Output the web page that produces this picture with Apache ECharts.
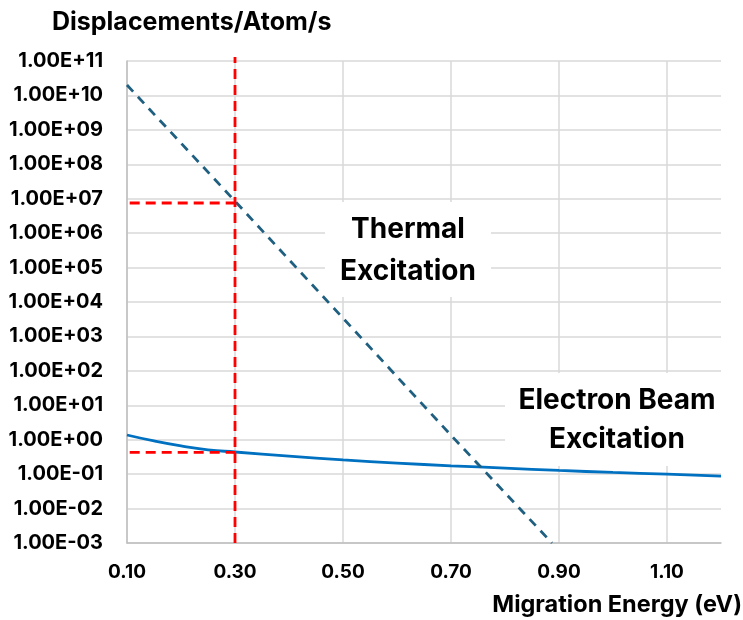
<!DOCTYPE html>
<html>
<head>
<meta charset="utf-8">
<title>Displacements per atom per second vs migration energy</title>
<script src="https://cdn.jsdelivr.net/npm/echarts@6/dist/echarts.min.js"></script>
<style>
  html, body { margin: 0; padding: 0; background: #ffffff; }
  #chart { width: 743px; height: 620px; }
</style>
</head>
<body>
<div id="chart"></div>
<script>
// Migration energy (eV) sample points and displacement rates (displacements/atom/s)
const thermalEnergy = [0.10, 0.30, 0.50, 0.70, 0.887];
const thermalRate   = [2.0e10, 8.5e6, 3.4e3, 1.35, 1.0e-3];

const beamEnergy = [0.10, 0.15, 0.20, 0.25, 0.30, 0.40, 0.50, 0.60, 0.70, 0.80, 0.90, 1.00, 1.10, 1.20];
const beamRate   = [1.37, 0.92, 0.66, 0.51, 0.44, 0.335, 0.26, 0.21, 0.175, 0.15, 0.128, 0.112, 0.10, 0.088];

// Red guide lines marking the 0.30 eV reading
const guideEnergy = 0.30;
const guideThermalRate = 7.5e6;
const guideBeamRate = 0.43;
const guideStartEnergy = 0.105;
const guideBottom = 1e-3;
const guideTop = 1.3e11;

// Axis tick labels
const xTickLabels = ['0.10', '0.30', '0.50', '0.70', '0.90', '1.10'];
const yTickLabels = ['1.00E-03', '1.00E-02', '1.00E-01', '1.00E+00', '1.00E+01', '1.00E+02',
  '1.00E+03', '1.00E+04', '1.00E+05', '1.00E+06', '1.00E+07', '1.00E+08', '1.00E+09',
  '1.00E+10', '1.00E+11'];

const FONT = 'Inter, "Open Sans", "Liberation Sans", sans-serif';
const pair = (xs, ys) => xs.map((x, i) => [x, ys[i]]);

const chart = echarts.init(document.getElementById('chart'), null, { renderer: 'canvas' });

const boxText = (text, x, y) => ({
  type: 'text', z: 5, x: x, y: y,
  style: { text: text, fontFamily: FONT, fontWeight: 'bold', fontSize: 28, fill: '#000000',
           align: 'center', verticalAlign: 'middle' }
});

chart.setOption({
  animation: false,
  backgroundColor: '#ffffff',
  grid: { left: 127, right: 22, top: 61, bottom: 77 },
  xAxis: {
    type: 'value',
    min: 0.1,
    max: 1.2,
    interval: 0.2,
    axisLine: { show: true, lineStyle: { color: '#bfbfbf', width: 1.5 } },
    axisTick: { show: false },
    splitLine: { show: true, showMaxLine: false, lineStyle: { color: '#d9d9d9', width: 1.5 } },
    axisLabel: {
      margin: 20,
      showMaxLabel: false,
      color: '#000000',
      fontFamily: FONT,
      fontWeight: 'bold',
      fontSize: 19,
      formatter: v => xTickLabels[Math.round((v - 0.1) / 0.2)] || ''
    }
  },
  yAxis: {
    type: 'log',
    logBase: 10,
    min: 1e-3,
    max: 1e11,
    interval: 1,
    axisLine: { show: true, lineStyle: { color: '#bfbfbf', width: 1.5 } },
    axisTick: { show: false },
    splitLine: { show: true, lineStyle: { color: '#d9d9d9', width: 1.5 } },
    axisLabel: {
      margin: 24,
      color: '#000000',
      fontFamily: FONT,
      fontWeight: 'bold',
      fontSize: 20,
      formatter: v => yTickLabels[Math.round(Math.log10(v)) + 3] || ''
    }
  },
  graphic: [
    { type: 'text', left: 52, top: 10, z: 5,
      style: { text: 'Displacements/Atom/s', fontFamily: FONT, fontWeight: 'bold', fontSize: 25, fill: '#000000' } },
    { type: 'text', right: 1, top: 593, z: 5,
      style: { text: 'Migration Energy (eV)', fontFamily: FONT, fontWeight: 'bold', fontSize: 23.5, fill: '#000000' } },
    // White label boxes over the grid
    { type: 'rect', z: 1, shape: { x: 325, y: 202, width: 166, height: 95 }, style: { fill: '#ffffff' } },
    boxText('Thermal', 408, 230),
    boxText('Excitation', 408, 272),
    { type: 'rect', z: 1, shape: { x: 505, y: 373, width: 238, height: 93 }, style: { fill: '#ffffff' } },
    boxText('Electron Beam', 617, 401),
    boxText('Excitation', 617, 440)
  ],
  series: [
    {
      name: 'Electron Beam Excitation',
      type: 'line',
      z: 3,
      data: pair(beamEnergy, beamRate),
      smooth: true,
      showSymbol: false,
      lineStyle: { color: '#0070c0', width: 2.8 }
    },
    {
      name: 'Thermal Excitation',
      type: 'line',
      z: 3,
      data: pair(thermalEnergy, thermalRate),
      showSymbol: false,
      lineStyle: { color: '#1f5f80', width: 2.8, type: [9, 7] }
    },
    {
      name: 'Guide vertical',
      type: 'line',
      z: 4,
      clip: false,
      data: [[guideEnergy, guideBottom], [guideEnergy, guideTop]],
      showSymbol: false,
      lineStyle: { color: '#ff0000', width: 2.8, type: [10, 6] }
    },
    {
      name: 'Guide thermal',
      type: 'line',
      z: 4,
      data: [[guideStartEnergy, guideThermalRate], [guideEnergy, guideThermalRate]],
      showSymbol: false,
      lineStyle: { color: '#ff0000', width: 2.8, type: [10, 6] }
    },
    {
      name: 'Guide beam',
      type: 'line',
      z: 4,
      data: [[guideStartEnergy, guideBeamRate], [guideEnergy, guideBeamRate]],
      showSymbol: false,
      lineStyle: { color: '#ff0000', width: 2.8, type: [10, 6] }
    }
  ]
});
</script>
</body>
</html>
